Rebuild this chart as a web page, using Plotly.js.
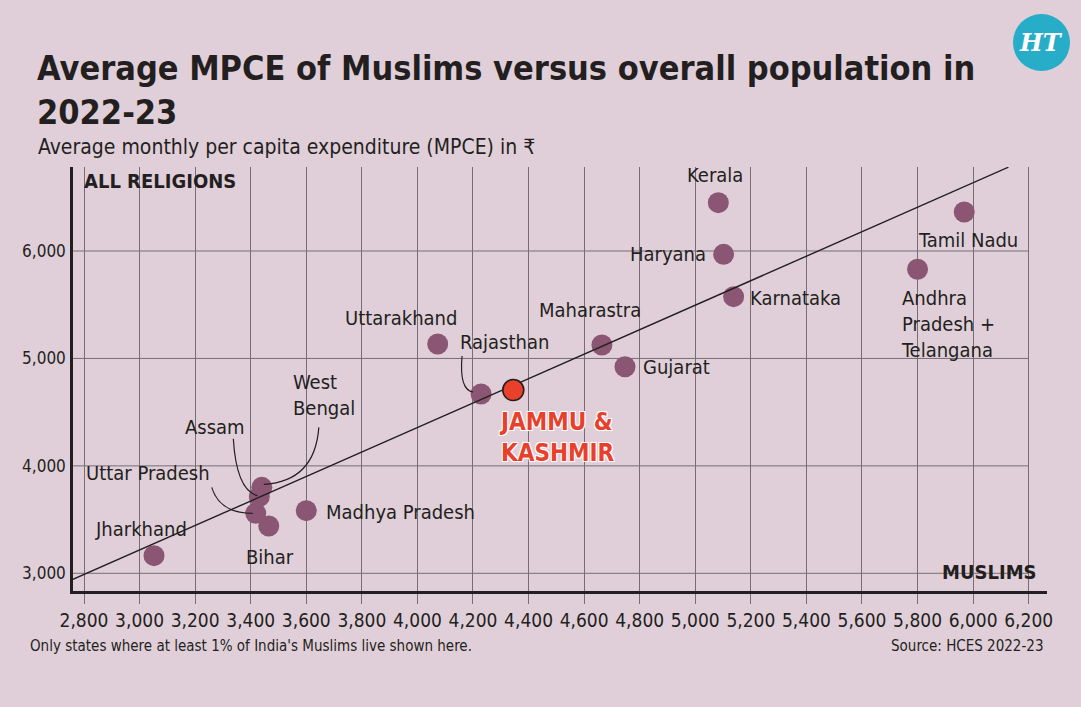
<!DOCTYPE html>
<html>
<head>
<meta charset="utf-8">
<script src="https://cdn.plot.ly/plotly-3.0.1.min.js"></script>
<style>
  html, body { margin: 0; padding: 0; background: #e0cfd9; }
  #chart { width: 1081px; height: 707px; }
</style>
</head>
<body>
<div id="chart"></div>
<script>
// ---- data ----
const states = ['Jharkhand', 'Uttar Pradesh', 'Bihar', 'Assam', 'West Bengal', 'Madhya Pradesh',
  'Uttarakhand', 'Rajasthan', 'Maharastra', 'Gujarat', 'Kerala', 'Haryana', 'Karnataka',
  'Tamil Nadu', 'Andhra Pradesh + Telangana'];
const muslimMPCE = [3052, 3418, 3465, 3431, 3440, 3600, 4073, 4229, 4664, 4747, 5083, 5102, 5138, 5968, 5800];
const allMPCE    = [3164, 3558, 3440, 3713, 3800, 3583, 5134, 4669, 5125, 4923, 6450, 5969, 5575, 6363, 5830];
const highlightState = 'JAMMU & KASHMIR';
const highlightMuslim = [4345];
const highlightAll = [4706];
const trendX = [2760, 6127];
const trendY = [2944, 6780];
const xTicks = [2800, 3000, 3200, 3400, 3600, 3800, 4000, 4200, 4400, 4600, 4800, 5000, 5200, 5400, 5600, 5800, 6000, 6200];
const yTicks = [3000, 4000, 5000, 6000];

// ---- geometry / style ----
const W = 1081, H = 707;
const M = {l: 73, r: 34, t: 167, b: 116};
const plotW = W - M.l - M.r, plotH = H - M.t - M.b;
const xRange = [2760.4, 6265.9];
const yRange = [2835.2, 6782];
const kx = plotW / (xRange[1] - xRange[0]);
const ky = plotH / (yRange[1] - yRange[0]);
const BG = '#e0cfd9';
const INK = '#231f20';
const GRID = '#766e74';
const DOT = '#8a5673';
const RED = '#e8402a';
const FONT = '"DejaVu Sans Condensed", "Liberation Sans Narrow", "Noto Sans", sans-serif';

// label placement (pixel shifts from the point)
const labelPos = {
  'Jharkhand': {dx: -13, dy: 27, xa: 'center'},
  'Uttar Pradesh': {dx: -108, dy: 40, xa: 'center'},
  'Bihar': {dx: 1, dy: -31, xa: 'center'},
  'Assam': {dx: -44, dy: 70, xa: 'center'},
  'West Bengal': {dx: 29, dy: 92, xa: 'left', text: 'West<br>Bengal'},
  'Madhya Pradesh': {dx: 18, dy: -1, xa: 'left'},
  'Uttarakhand': {dx: -37, dy: 26, xa: 'center'},
  'Rajasthan': {dx: 23, dy: 52, xa: 'center'},
  'Maharastra': {dx: -12, dy: 35, xa: 'center'},
  'Gujarat': {dx: 16, dy: 0, xa: 'left'},
  'Kerala': {dx: -3, dy: 28, xa: 'center'},
  'Haryana': {dx: -16, dy: 0, xa: 'right'},
  'Karnataka': {dx: 14, dy: -1, xa: 'left'},
  'Tamil Nadu': {dx: 4, dy: -28, xa: 'center'},
  'Andhra Pradesh + Telangana': {dx: -19, dy: -55, xa: 'left', text: 'Andhra<br>Pradesh +<br>Telangana'}
};
// leader curves: pixel offsets (right, down) from the point: start, control, end
const leaders = {
  'Rajasthan': [[-19, -38], [-22, -4], [-8, -2]],
  'Assam': [[-26, -58], [-23, -7], [-2, -1]],
  'West Bengal': [[57, -60], [53, -6], [2, -3]],
  'Uttar Pradesh': [[-44, -26], [-36, 0], [-3, 0]]
};

function toData(x, y, off) {
  return [x + off[0] / kx, y - off[1] / ky];
}
function px2paperX(px) { return (px - M.l) / plotW; }
function px2paperY(py) { return (H - M.b - py) / plotH; }

const traces = [
  {
    type: 'scatter', mode: 'markers', x: muslimMPCE, y: allMPCE, text: states,
    marker: {size: 21, color: DOT, line: {width: 0}},
    hoverinfo: 'text', showlegend: false, cliponaxis: false
  },
  {
    type: 'scatter', mode: 'lines', x: trendX, y: trendY,
    line: {color: INK, width: 1.4}, hoverinfo: 'skip', showlegend: false
  },
  {
    type: 'scatter', mode: 'markers', x: highlightMuslim, y: highlightAll, text: [highlightState],
    marker: {size: 21, color: RED, line: {width: 1.6, color: INK}},
    hoverinfo: 'text', showlegend: false, cliponaxis: false
  }
];

const annotations = [];
states.forEach((s, i) => {
  const p = labelPos[s];
  annotations.push({
    x: muslimMPCE[i], y: allMPCE[i], xref: 'x', yref: 'y',
    text: p.text || s, showarrow: false,
    xanchor: p.xa, yanchor: 'middle', align: p.xa === 'right' ? 'right' : (p.xa === 'left' ? 'left' : 'center'),
    xshift: p.dx, yshift: p.dy,
    font: {family: FONT, size: 20, color: INK}
  });
});
annotations.push({
  x: highlightMuslim[0], y: highlightAll[0], xref: 'x', yref: 'y',
  text: '<b>JAMMU &amp;<br>KASHMIR</b>', showarrow: false,
  xanchor: 'center', yanchor: 'middle', align: 'left', xshift: 44, yshift: -47,
  font: {family: FONT, size: 24, color: RED,
         shadow: '1px 1px 0 #fff, -1px -1px 0 #fff, 1px -1px 0 #fff, -1px 1px 0 #fff'}
});
// title
annotations.push({
  xref: 'paper', yref: 'paper', x: px2paperX(35), y: px2paperY(46),
  text: '<b>Average MPCE of Muslims versus overall population in<br>2022-23</b>',
  showarrow: false, xanchor: 'left', yanchor: 'top', align: 'left',
  font: {family: FONT, size: 34, color: INK}
});
// axis captions
annotations.push({
  xref: 'paper', yref: 'paper', x: px2paperX(82), y: px2paperY(181),
  text: '<b>ALL RELIGIONS</b>', showarrow: false, xanchor: 'left', yanchor: 'middle',
  font: {family: FONT, size: 20, color: INK}
});
annotations.push({
  xref: 'paper', yref: 'paper', x: px2paperX(1039), y: px2paperY(572),
  text: '<b>MUSLIMS</b>', showarrow: false, xanchor: 'right', yanchor: 'middle',
  font: {family: FONT, size: 20, color: INK}
});
// subtitle
annotations.push({
  xref: 'paper', yref: 'paper', x: px2paperX(36), y: px2paperY(147),
  text: 'Average monthly per capita expenditure (MPCE) in ₹', showarrow: false,
  xanchor: 'left', yanchor: 'middle',
  font: {family: FONT, size: 21, color: INK}
});
// footnotes
annotations.push({
  xref: 'paper', yref: 'paper', x: px2paperX(28), y: px2paperY(646),
  text: "Only states where at least 1% of India's Muslims live shown here.", showarrow: false,
  xanchor: 'left', yanchor: 'middle', font: {family: FONT, size: 15, color: INK}
});
annotations.push({
  xref: 'paper', yref: 'paper', x: px2paperX(1045), y: px2paperY(646),
  text: 'Source: HCES 2022-23', showarrow: false,
  xanchor: 'right', yanchor: 'middle', font: {family: FONT, size: 15, color: INK}
});
// logo text
annotations.push({
  xref: 'paper', yref: 'paper', x: px2paperX(1041), y: px2paperY(43),
  text: '<b><i>HT</i></b>', showarrow: false, xanchor: 'center', yanchor: 'middle',
  font: {family: '"DejaVu Serif", "Liberation Serif", serif', size: 24, color: '#ffffff'}
});

const shapes = [];
// horizontal gridlines stop at the last x tick
yTicks.forEach(v => {
  shapes.push({type: 'line', xref: 'x', yref: 'y', x0: xRange[0], x1: xTicks[xTicks.length - 1], y0: v, y1: v,
    line: {color: GRID, width: 1}, layer: 'below'});
});
// leader curves
states.forEach((s, i) => {
  const L = leaders[s];
  if (!L) return;
  const a = toData(muslimMPCE[i], allMPCE[i], L[0]);
  const c = toData(muslimMPCE[i], allMPCE[i], L[1]);
  const e = toData(muslimMPCE[i], allMPCE[i], L[2]);
  shapes.push({type: 'path', xref: 'x', yref: 'y',
    path: `M ${a[0]},${a[1]} Q ${c[0]},${c[1]} ${e[0]},${e[1]}`,
    line: {color: INK, width: 1.2}, layer: 'above'});
});
// logo circle
shapes.push({type: 'circle', xref: 'paper', yref: 'paper',
  x0: px2paperX(1013), x1: px2paperX(1070), y0: px2paperY(71), y1: px2paperY(14),
  fillcolor: '#27adc8', line: {width: 0}});

const layout = {
  width: W, height: H,
  paper_bgcolor: BG, plot_bgcolor: BG,
  margin: M,
  xaxis: {
    range: xRange, tickvals: xTicks, tickformat: ',d',
    showgrid: true, gridcolor: GRID, gridwidth: 1,
    zeroline: false, showline: true, linecolor: INK, linewidth: 2.5,
    ticks: 'outside', ticklen: 10, tickcolor: GRID, tickwidth: 1,
    tickfont: {family: FONT, size: 19, color: INK}, fixedrange: true
  },
  yaxis: {
    range: yRange, tickvals: yTicks, tickformat: ',d',
    showgrid: false, zeroline: false, showline: true, linecolor: INK, linewidth: 2.5,
    ticks: '', ticklabelstandoff: 1,
    tickfont: {family: FONT, size: 17, color: INK}, fixedrange: true
  },
  annotations: annotations,
  shapes: shapes,
  showlegend: false,
  hovermode: 'closest'
};

Plotly.newPlot('chart', traces, layout, {displayModeBar: false});
</script>
</body>
</html>
